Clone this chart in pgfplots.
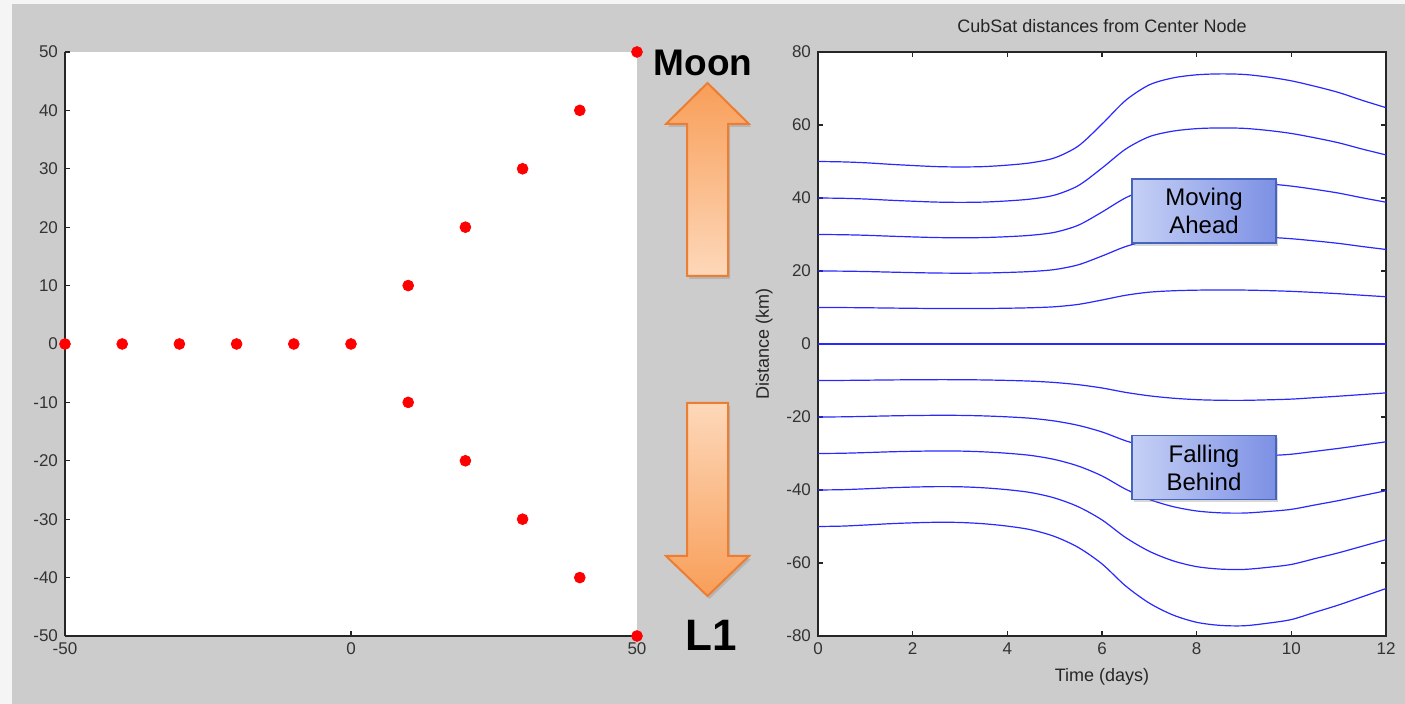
\documentclass[border=0pt]{standalone}
\usepackage{fontspec}
\setmainfont{Liberation Sans}
\usepackage{pgfplots}
\pgfplotsset{compat=1.18}
\usepackage{pgfplotstable}
\usetikzlibrary{shadows}

\definecolor{figgray}{RGB}{204,204,204}
\definecolor{mlblue}{RGB}{40,40,255}
\definecolor{arrowline}{RGB}{237,125,49}
\definecolor{arrowdark}{RGB}{248,158,88}
\definecolor{arrowlight}{RGB}{253,216,186}
\definecolor{boxline}{RGB}{70,100,190}
\definecolor{boxleft}{RGB}{198,208,245}
\definecolor{boxright}{RGB}{124,144,228}

% time (days), distance (km) of each CubSat
\pgfplotstableread{
t    p50    p40    p30    p20    p10    m10     m20     m30     m40     m50
0    50.0   40.0   30.0   20.0   10.0   -10.0   -20.0   -30.0   -40.0   -50.0
0.5  49.9   39.92  29.94  19.96  9.98   -9.98   -19.96  -29.94  -39.92  -49.9
1    49.65  39.72  29.79  19.86  9.93   -9.92   -19.84  -29.76  -39.68  -49.6
1.5  49.25  39.4   29.55  19.7   9.85   -9.85   -19.7   -29.55  -39.4   -49.25
2    48.9   39.12  29.34  19.56  9.78   -9.8    -19.6   -29.4   -39.2   -49.0
2.5  48.6   38.88  29.16  19.44  9.72   -9.77   -19.54  -29.31  -39.08  -48.85
3    48.5   38.8   29.1   19.4   9.7    -9.78   -19.56  -29.34  -39.12  -48.9
3.5  48.6   38.88  29.16  19.44  9.72   -9.85   -19.7   -29.55  -39.4   -49.25
4    49.0   39.2   29.4   19.6   9.8    -9.98   -19.96  -29.94  -39.92  -49.9
4.5  49.65  39.72  29.79  19.86  9.93   -10.18  -20.36  -30.54  -40.72  -50.9
5    51.0   40.8   30.6   20.4   10.2   -10.55  -21.1   -31.65  -42.2   -52.75
5.5  54.25  43.4   32.55  21.7   10.85  -11.15  -22.3   -33.45  -44.6   -55.75
6    60.25  48.2   36.15  24.1   12.05  -12.05  -24.1   -36.15  -48.2   -60.25
6.5  66.75  53.4   40.05  26.7   13.35  -13.26  -26.52  -39.78  -53.04  -66.3
7    71.0   56.8   42.6   28.4   14.2   -14.2   -28.4   -42.6   -56.8   -71.0
7.5  72.9   58.32  43.74  29.16  14.58  -14.85  -29.7   -44.55  -59.4   -74.25
8    73.75  59.0   44.25  29.5   14.75  -15.25  -30.5   -45.75  -61.0   -76.25
8.5  74.0   59.2   44.4   29.6   14.8   -15.42  -30.84  -46.26  -61.68  -77.1
9    73.85  59.08  44.31  29.54  14.77  -15.44  -30.88  -46.32  -61.76  -77.2
9.5  73.15  58.52  43.89  29.26  14.63  -15.3   -30.6   -45.9   -61.2   -76.5
10   72.1   57.68  43.26  28.84  14.42  -15.1   -30.2   -45.3   -60.4   -75.5
10.5 70.6   56.48  42.36  28.24  14.12  -14.7   -29.4   -44.1   -58.8   -73.5
11   68.9   55.12  41.34  27.56  13.78  -14.3   -28.6   -42.9   -57.2   -71.5
11.5 66.75  53.4   40.05  26.7   13.35  -13.85  -27.7   -41.55  -55.4   -69.25
12   64.75  51.8   38.85  25.9   12.95  -13.4   -26.8   -40.2   -53.6   -67.0
}\distances

\pgfplotsset{
  mlaxis/.style={
    scale only axis,
    anchor=south west,
    tick align=inside,
    major tick length=2.5pt,
    axis line style={line width=0.6pt, black!85},
    every tick/.style={line width=0.6pt, black!85},
    tick label style={font=\fontsize{8.5}{9.5}\selectfont, text=black!80},
    /pgf/number format/assume math mode=true,
    label style={font=\fontsize{9}{10}\selectfont, text=black!85},
    title style={font=\fontsize{9}{10}\selectfont, text=black!85},
  },
  cub/.style={mlblue, solid, line width=0.6pt, smooth, mark=none},
}

\begin{document}
\begin{tikzpicture}
\useasboundingbox (0,0) rectangle (702.5pt,352pt);
\fill[black!4] (0,0) rectangle (702.5pt,352pt);
\fill[figgray] (6pt,0) rectangle (702.5pt,350pt);

% left: formation positions
\begin{axis}[mlaxis,
  at={(32.5pt,34pt)}, width=286pt, height=292pt,
  xmin=-50, xmax=50, ymin=-50, ymax=50,
  xtick={-50,0,50}, ytick={-50,-40,...,50},
  axis x line*=bottom, axis y line*=left,
  axis background/.style={fill=white},
  clip=false,
]
\addplot[only marks, mark=*, mark size=2.7pt, color=red, mark options={draw=red, fill=red}] coordinates {
 (-50,0) (-40,0) (-30,0) (-20,0) (-10,0) (0,0)
 (10,10) (20,20) (30,30) (40,40) (50,50)
 (10,-10) (20,-20) (30,-30) (40,-40) (50,-50)};
\end{axis}

% right: distances over time
\begin{axis}[mlaxis,
  at={(409pt,34pt)}, width=284pt, height=292pt,
  xmin=0, xmax=12, ymin=-80, ymax=80,
  xtick={0,2,...,12}, ytick={-80,-60,...,80},
  axis background/.style={fill=white},
  title={CubSat distances from Center Node},
  xlabel={Time (days)}, ylabel={Distance (km)},
]
\addplot[cub] table[x=t, y=p50] {\distances};
\addplot[cub] table[x=t, y=p40] {\distances};
\addplot[cub] table[x=t, y=p30] {\distances};
\addplot[cub] table[x=t, y=p20] {\distances};
\addplot[cub] table[x=t, y=p10] {\distances};
\addplot[cub] coordinates {(0,0) (12,0)};
\addplot[cub] table[x=t, y=m10] {\distances};
\addplot[cub] table[x=t, y=m20] {\distances};
\addplot[cub] table[x=t, y=m30] {\distances};
\addplot[cub] table[x=t, y=m40] {\distances};
\addplot[cub] table[x=t, y=m50] {\distances};
\end{axis}

% annotations, in pixel units of the reference
\begin{scope}[x=0.5pt, y=-0.5pt, yshift=352pt]
  \draw[arrowline, line width=1pt, top color=arrowdark, bottom color=arrowlight,
        drop shadow={opacity=0.3, shadow xshift=1pt, shadow yshift=-1.5pt}]
    (687,276) -- (687,124) -- (666,124) -- (707.5,83) -- (749,124) -- (728,124) -- (728,276) -- cycle;
  \draw[arrowline, line width=1pt, top color=arrowlight, bottom color=arrowdark,
        drop shadow={opacity=0.3, shadow xshift=1pt, shadow yshift=-1.5pt}]
    (687,403) -- (687,556) -- (666,556) -- (707.5,596) -- (749,556) -- (728,556) -- (728,403) -- cycle;
  \node[font=\bfseries\fontsize{18.5}{20}\selectfont] at (703,63) {Moon};
  \node[font=\bfseries\fontsize{22}{24}\selectfont] at (711,635) {L1};

  \node[draw=boxline, line width=0.8pt, left color=boxleft, right color=boxright,
        drop shadow={opacity=0.3, shadow xshift=1pt, shadow yshift=-1.5pt},
        minimum width=72pt, minimum height=32pt, align=center, inner sep=0pt,
        font=\fontsize{12}{14}\selectfont] at (1204,211) {Moving\\Ahead};
  \node[draw=boxline, line width=0.8pt, left color=boxleft, right color=boxright,
        drop shadow={opacity=0.3, shadow xshift=1pt, shadow yshift=-1.5pt},
        minimum width=72pt, minimum height=32pt, align=center, inner sep=0pt,
        font=\fontsize{12}{14}\selectfont] at (1204,467.5) {Falling\\Behind};
\end{scope}
\end{tikzpicture}
\end{document}
